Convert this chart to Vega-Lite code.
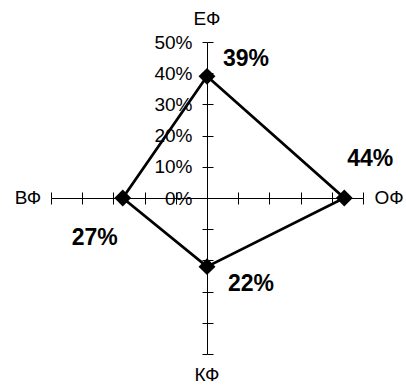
{
  "$schema": "https://vega.github.io/schema/vega-lite/v6.json",
  "width": 312,
  "height": 312,
  "autosize": {"type": "none"},
  "padding": {"left": 51, "top": 42, "right": 43, "bottom": 33},
  "background": "white",
  "config": {"view": {"stroke": null}, "font": "Liberation Sans"},
  "data": {"values": [
    {"axis": "ЕФ", "value": 0.39, "ord": 1},
    {"axis": "ОФ", "value": 0.44, "ord": 2},
    {"axis": "КФ", "value": 0.22, "ord": 3},
    {"axis": "ВФ", "value": 0.27, "ord": 4}
  ]},
  "transform": [
    {"calculate": "datum.axis === 'ОФ' ? datum.value : datum.axis === 'ВФ' ? -datum.value : 0", "as": "x"},
    {"calculate": "datum.axis === 'ЕФ' ? datum.value : datum.axis === 'КФ' ? -datum.value : 0", "as": "y"}
  ],
  "resolve": {"axis": {"x": "independent", "y": "independent"}},
  "layer": [
    {
      "mark": {"type": "line", "interpolate": "linear-closed", "color": "black", "strokeWidth": 2.75},
      "encoding": {
        "x": {"field": "x", "type": "quantitative",
          "scale": {"domain": [-0.5, 0.5], "nice": false, "zero": false},
          "axis": {"orient": "bottom", "offset": -156, "values": [-0.5, -0.4, -0.3, -0.2, -0.1, 0, 0.1, 0.2, 0.3, 0.4, 0.5],
            "labels": false, "tickSize": 6, "grid": false, "title": null,
            "domainColor": "black", "tickColor": "black", "domainWidth": 1, "tickWidth": 1}},
        "y": {"field": "y", "type": "quantitative",
          "scale": {"domain": [-0.5, 0.5], "nice": false, "zero": false},
          "axis": {"orient": "left", "offset": -156, "values": [-0.5, -0.4, -0.3, -0.2, -0.1, 0, 0.1, 0.2, 0.3, 0.4, 0.5],
            "labelExpr": "datum.value >= 0 ? format(datum.value, '.0%') : ''",
            "labelFontSize": 19, "labelPadding": 10, "labelColor": "black", "labelFont": "Liberation Sans",
            "tickSize": 5, "grid": false, "title": null,
            "domainColor": "black", "tickColor": "black", "domainWidth": 1, "tickWidth": 1}},
        "order": {"field": "ord"}
      }
    },
    {
      "mark": {"type": "point", "shape": "diamond", "filled": true, "color": "black", "size": 285, "opacity": 1},
      "encoding": {
        "x": {"field": "x", "type": "quantitative",
          "axis": {"orient": "top", "offset": -156, "values": [-0.5, -0.4, -0.3, -0.2, -0.1, 0, 0.1, 0.2, 0.3, 0.4, 0.5],
            "labels": false, "tickSize": 6, "grid": false, "title": null, "domain": false,
            "tickColor": "black", "tickWidth": 1}},
        "y": {"field": "y", "type": "quantitative",
          "axis": {"orient": "right", "offset": -156, "values": [-0.5, -0.4, -0.3, -0.2, -0.1, 0, 0.1, 0.2, 0.3, 0.4, 0.5],
            "labels": false, "tickSize": 6, "grid": false, "title": null, "domain": false,
            "tickColor": "black", "tickWidth": 1}}
      }
    },
    {
      "transform": [{"filter": "datum.axis === 'ЕФ'"}],
      "mark": {"type": "text", "fontWeight": "bold", "fontSize": 23, "color": "black", "align": "center", "baseline": "middle", "dx": 39, "dy": -17},
      "encoding": {
        "x": {"field": "x", "type": "quantitative", "axis": null},
        "y": {"field": "y", "type": "quantitative", "axis": null},
        "text": {"field": "value", "format": ".0%"}
      }
    },
    {
      "transform": [{"filter": "datum.axis === 'ОФ'"}],
      "mark": {"type": "text", "fontWeight": "bold", "fontSize": 23, "color": "black", "align": "center", "baseline": "middle", "dx": 26, "dy": -39},
      "encoding": {
        "x": {"field": "x", "type": "quantitative", "axis": null},
        "y": {"field": "y", "type": "quantitative", "axis": null},
        "text": {"field": "value", "format": ".0%"}
      }
    },
    {
      "transform": [{"filter": "datum.axis === 'КФ'"}],
      "mark": {"type": "text", "fontWeight": "bold", "fontSize": 23, "color": "black", "align": "center", "baseline": "middle", "dx": 44, "dy": 17},
      "encoding": {
        "x": {"field": "x", "type": "quantitative", "axis": null},
        "y": {"field": "y", "type": "quantitative", "axis": null},
        "text": {"field": "value", "format": ".0%"}
      }
    },
    {
      "transform": [{"filter": "datum.axis === 'ВФ'"}],
      "mark": {"type": "text", "fontWeight": "bold", "fontSize": 23, "color": "black", "align": "center", "baseline": "middle", "dx": -28, "dy": 40},
      "encoding": {
        "x": {"field": "x", "type": "quantitative", "axis": null},
        "y": {"field": "y", "type": "quantitative", "axis": null},
        "text": {"field": "value", "format": ".0%"}
      }
    },
    {
      "transform": [{"filter": "datum.axis === 'ЕФ'"}],
      "mark": {"type": "text", "fontSize": 19, "color": "black", "align": "center", "baseline": "middle", "dy": -23},
      "encoding": {
        "x": {"datum": 0, "type": "quantitative", "axis": null},
        "y": {"datum": 0.5, "type": "quantitative", "axis": null},
        "text": {"field": "axis"}
      }
    },
    {
      "transform": [{"filter": "datum.axis === 'ОФ'"}],
      "mark": {"type": "text", "fontSize": 19, "color": "black", "align": "center", "baseline": "middle", "dx": 26},
      "encoding": {
        "x": {"datum": 0.5, "type": "quantitative", "axis": null},
        "y": {"datum": 0, "type": "quantitative", "axis": null},
        "text": {"field": "axis"}
      }
    },
    {
      "transform": [{"filter": "datum.axis === 'КФ'"}],
      "mark": {"type": "text", "fontSize": 19, "color": "black", "align": "center", "baseline": "middle", "dy": 21},
      "encoding": {
        "x": {"datum": 0, "type": "quantitative", "axis": null},
        "y": {"datum": -0.5, "type": "quantitative", "axis": null},
        "text": {"field": "axis"}
      }
    },
    {
      "transform": [{"filter": "datum.axis === 'ВФ'"}],
      "mark": {"type": "text", "fontSize": 19, "color": "black", "align": "center", "baseline": "middle", "dx": -23},
      "encoding": {
        "x": {"datum": -0.5, "type": "quantitative", "axis": null},
        "y": {"datum": 0, "type": "quantitative", "axis": null},
        "text": {"field": "axis"}
      }
    }
  ]
}
